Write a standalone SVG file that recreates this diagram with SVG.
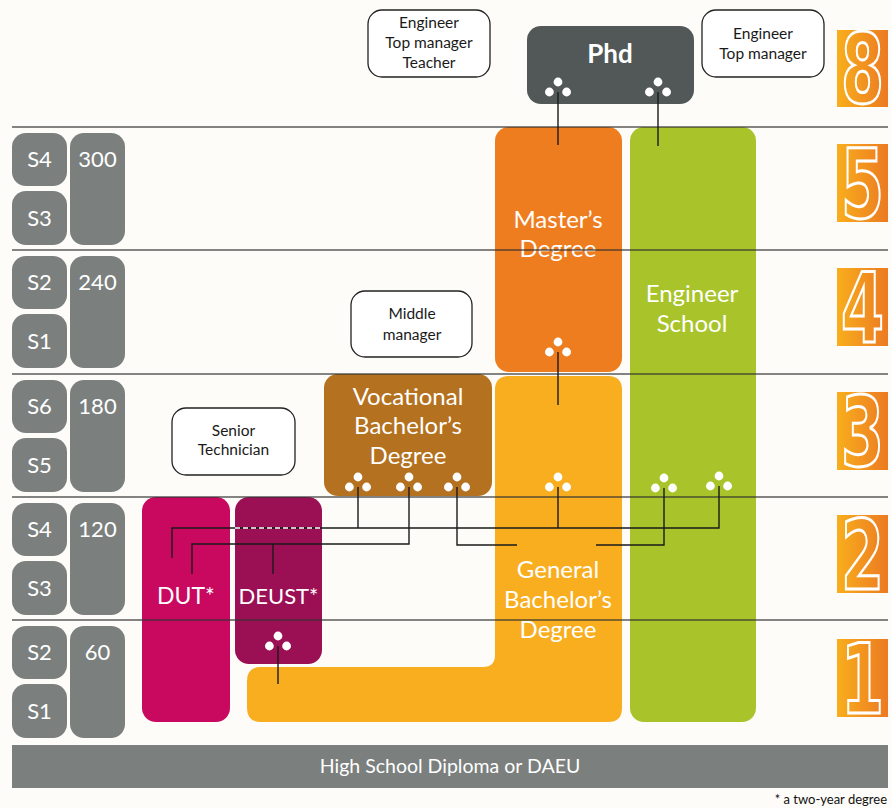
<svg xmlns="http://www.w3.org/2000/svg" width="892" height="808" viewBox="0 0 892 808">
<style>
.bg{fill:#fdfcf8}
.gray{fill:#7b7f7e}
.lbl{font-family:Lato,"Liberation Sans",sans-serif;fill:#fff;text-anchor:middle}
.sl{font-size:22px}
.big{font-size:24px}
.note{font-family:Lato,"Liberation Sans",sans-serif;fill:#1a1a1a;text-anchor:middle;font-size:15.5px}
.ob{fill:#fff;stroke:#222;stroke-width:1.3}
.band{stroke:#333;stroke-opacity:0.8;stroke-width:1.5}
.con{fill:none;stroke:#1a1a1a;stroke-width:1.4}
.dot{fill:#fff}
.dig{font-family:"DejaVu Sans",sans-serif;font-weight:bold;font-size:96px;fill:none;stroke:#fff;stroke-width:3}
</style>
<defs>
<linearGradient id="og" x1="0" y1="0" x2="1" y2="0">
<stop offset="0" stop-color="#f8ae1d"/>
<stop offset="1" stop-color="#ec7a22"/>
</linearGradient>
<g id="tri"><circle cx="0" cy="-10" r="4.4"/><circle cx="-8.6" cy="0" r="4.4"/><circle cx="8.6" cy="0" r="4.4"/></g>
</defs>
<rect class="bg" x="0" y="0" width="892" height="808"/>

<g id="scale-left">
<rect class="gray" x="12" y="133" width="55" height="53" rx="14"/>
<rect class="gray" x="12" y="191" width="55" height="54" rx="14"/>
<rect class="gray" x="70" y="133" width="55" height="112" rx="14"/>
<text class="lbl sl" x="39.5" y="167">S4</text><text class="lbl sl" x="39.5" y="226">S3</text><text class="lbl sl" x="97.5" y="167">300</text>
<rect class="gray" x="12" y="256" width="55" height="53" rx="14"/>
<rect class="gray" x="12" y="314" width="55" height="54" rx="14"/>
<rect class="gray" x="70" y="256" width="55" height="112" rx="14"/>
<text class="lbl sl" x="39.5" y="290">S2</text><text class="lbl sl" x="39.5" y="349">S1</text><text class="lbl sl" x="97.5" y="290">240</text>
<rect class="gray" x="12" y="380" width="55" height="53" rx="14"/>
<rect class="gray" x="12" y="438" width="55" height="54" rx="14"/>
<rect class="gray" x="70" y="380" width="55" height="112" rx="14"/>
<text class="lbl sl" x="39.5" y="414">S6</text><text class="lbl sl" x="39.5" y="473">S5</text><text class="lbl sl" x="97.5" y="414">180</text>
<rect class="gray" x="12" y="503" width="55" height="53" rx="14"/>
<rect class="gray" x="12" y="561" width="55" height="54" rx="14"/>
<rect class="gray" x="70" y="503" width="55" height="112" rx="14"/>
<text class="lbl sl" x="39.5" y="537">S4</text><text class="lbl sl" x="39.5" y="596">S3</text><text class="lbl sl" x="97.5" y="537">120</text>
<rect class="gray" x="12" y="626" width="55" height="53" rx="14"/>
<rect class="gray" x="12" y="684" width="55" height="54" rx="14"/>
<rect class="gray" x="70" y="626" width="55" height="112" rx="14"/>
<text class="lbl sl" x="39.5" y="660">S2</text><text class="lbl sl" x="39.5" y="719">S1</text><text class="lbl sl" x="97.5" y="660">60</text>
</g>

<g id="digits">
<rect x="837" y="30" width="51" height="77" fill="url(#og)"/>
<rect x="837" y="144" width="51" height="78" fill="url(#og)"/>
<rect x="837" y="268" width="51" height="78" fill="url(#og)"/>
<rect x="837" y="392" width="51" height="78" fill="url(#og)"/>
<rect x="837" y="515" width="51" height="78" fill="url(#og)"/>
<rect x="837" y="639" width="51" height="78" fill="url(#og)"/>
<text class="dig" x="841" y="103" textLength="43" lengthAdjust="spacingAndGlyphs">8</text>
<text class="dig" x="841" y="218" textLength="43" lengthAdjust="spacingAndGlyphs">5</text>
<text class="dig" x="841" y="342" textLength="43" lengthAdjust="spacingAndGlyphs">4</text>
<text class="dig" x="841" y="466" textLength="43" lengthAdjust="spacingAndGlyphs">3</text>
<text class="dig" x="841" y="589" textLength="43" lengthAdjust="spacingAndGlyphs">2</text>
<text class="dig" x="841" y="713" textLength="43" lengthAdjust="spacingAndGlyphs">1</text>
</g>

<g id="high-school">
<rect class="gray" x="12" y="745" width="876" height="43"/>
<text class="lbl" x="450" y="773" style="font-size:19.5px">High School Diploma or DAEU</text>
</g>
<text id="footnote" x="887" y="804" style="font-family:Lato,'Liberation Sans',sans-serif;font-size:13px;fill:#111;text-anchor:end">* a two-year degree</text>

<g id="general">
<path d="M495 390Q495 376 509 376H608Q622 376 622 390V708Q622 722 608 722H261Q247 722 247 708V681Q247 667 261 667H483Q495 667 495 655Z" fill="#f8ae1f"/>
<text class="lbl big" x="558" y="578">General</text>
<text class="lbl big" x="558" y="608">Bachelor’s</text>
<text class="lbl big" x="558" y="638">Degree</text>
<use href="#tri" class="dot" x="558" y="487"/>
</g>

<g id="master">
<rect x="495" y="127" width="127" height="245" rx="14" fill="#ee7d1f"/>
<text class="lbl big" x="558" y="228">Master’s</text>
<text class="lbl big" x="558" y="257">Degree</text>
<use href="#tri" class="dot" x="558" y="352"/>
</g>

<g id="engineer">
<rect x="630" y="127" width="126" height="595" rx="14" fill="#a8c42a"/>
<text class="lbl big" x="692" y="302">Engineer</text>
<text class="lbl big" x="692" y="332">School</text>
<use href="#tri" class="dot" x="664" y="488"/>
<use href="#tri" class="dot" x="719" y="486"/>
</g>

<g id="vocational">
<rect x="324" y="374" width="168" height="122" rx="14" fill="#b47120"/>
<text class="lbl big" x="408" y="405">Vocational</text>
<text class="lbl big" x="408" y="434">Bachelor’s</text>
<text class="lbl big" x="408" y="464">Degree</text>
<use href="#tri" class="dot" x="358" y="487"/>
<use href="#tri" class="dot" x="409" y="487"/>
<use href="#tri" class="dot" x="457" y="487"/>
</g>

<g id="dut">
<rect x="142" y="497" width="88" height="225" rx="14" fill="#c8095f"/>
<text class="lbl" x="186" y="604" style="font-size:23px">DUT*</text>
</g>

<g id="deust">
<rect x="235" y="497" width="87" height="167" rx="14" fill="#9b1054"/>
<text class="lbl" x="278.5" y="604" style="font-size:22px">DEUST*</text>
<use href="#tri" class="dot" x="278" y="646"/>
</g>

<g id="phd">
<rect x="527" y="26" width="167" height="78" rx="14" fill="#525857"/>
<text class="lbl" x="610" y="63" style="font-size:26px;font-weight:bold">Phd</text>
<use href="#tri" class="dot" x="558" y="92"/>
<use href="#tri" class="dot" x="658" y="92"/>
</g>

<g id="bands">
<line class="band" x1="12" y1="127" x2="888" y2="127"/>
<line class="band" x1="12" y1="250" x2="888" y2="250"/>
<line class="band" x1="12" y1="374" x2="888" y2="374"/>
<line class="band" x1="12" y1="497" x2="888" y2="497"/>
<line class="band" x1="12" y1="620" x2="888" y2="620"/>
</g>

<g id="connectors">
<path class="con" d="M558 92V145"/>
<path class="con" d="M658 92V146"/>
<path class="con" d="M558 352V405"/>
<path class="con" d="M172 558V528H719V486"/>
<path class="con" d="M358 487V528M558 487V528"/>
<path class="con" d="M235 528H322" style="stroke:#fff;stroke-dasharray:5 3"/>
<path class="con" d="M192 574V544H409V487M273 544V574"/>
<path class="con" d="M457 487V545H517M596 545H664V488"/>
<path class="con" d="M278 646V684"/>
</g>

<g id="role-top-left">
<rect class="ob" x="368" y="10" width="122" height="67" rx="14"/>
<text class="note" x="429" y="28">Engineer</text>
<text class="note" x="429" y="48">Top manager</text>
<text class="note" x="429" y="68">Teacher</text>
</g>
<g id="role-top-right">
<rect class="ob" x="702" y="10" width="122" height="67" rx="14"/>
<text class="note" x="763" y="39">Engineer</text>
<text class="note" x="763" y="59">Top manager</text>
</g>
<g id="role-middle">
<rect class="ob" x="351" y="291" width="121" height="66" rx="14"/>
<text class="note" x="412" y="319">Middle</text>
<text class="note" x="412" y="340">manager</text>
</g>
<g id="role-senior">
<rect class="ob" x="172" y="408" width="123" height="67" rx="14"/>
<text class="note" x="233.5" y="436">Senior</text>
<text class="note" x="233.5" y="455">Technician</text>
</g>
</svg>
